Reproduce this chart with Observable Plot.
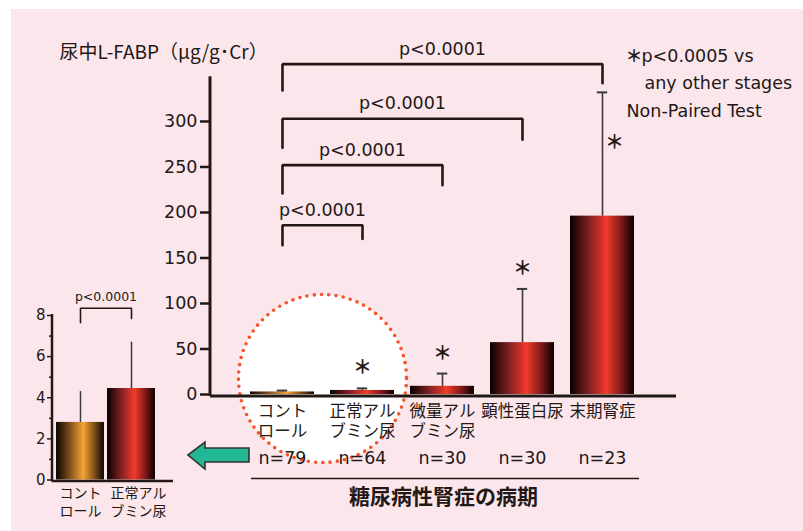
<!DOCTYPE html>
<html><head><meta charset="utf-8">
<script src="https://cdn.jsdelivr.net/npm/d3@7"></script>
<script src="https://cdn.jsdelivr.net/npm/@observablehq/plot@0.6"></script>
<style>
html,body{margin:0;padding:0;background:#fff;}
#wrap{position:relative;width:803px;height:531px;overflow:hidden;background:#fff;}
#bg{position:absolute;left:11px;top:9px;right:0;bottom:0;background:#fbe6ec;}
#main{position:absolute;left:0;top:0;}
#inset{position:absolute;left:0;top:280px;}
</style></head>
<body>
<svg width="0" height="0" style="position:absolute">
<defs>
<linearGradient id="gRed" x1="0" x2="1" y1="0" y2="0">
 <stop offset="0" stop-color="#080000"/>
 <stop offset="0.28" stop-color="#7a1f22"/>
 <stop offset="0.57" stop-color="#f23b2b"/>
 <stop offset="0.84" stop-color="#6a1415"/>
 <stop offset="1" stop-color="#080000"/>
</linearGradient>
<linearGradient id="gOrange" x1="0" x2="1" y1="0" y2="0">
 <stop offset="0" stop-color="#080400"/>
 <stop offset="0.28" stop-color="#7d4c1c"/>
 <stop offset="0.57" stop-color="#f6a434"/>
 <stop offset="0.84" stop-color="#6b3f12"/>
 <stop offset="1" stop-color="#080400"/>
</linearGradient>
</defs></svg>
<div id="wrap"><div id="bg"></div><div id="main"></div><div id="inset"></div></div>
<script>
// ---- data ----
const stages = ["コントロール","正常アルブミン尿","微量アルブミン尿","顕性蛋白尿","末期腎症"];
const stageLine1 = ["コント","正常アル","微量アル","顕性蛋白尿","末期腎症"];
const stageLine2 = ["ロール","ブミン尿","ブミン尿","",""];
const means = [2.8, 4.45, 9, 57, 196];
const upperSD = [1.5, 2.25, 14, 59, 136];
const nCounts = [79, 64, 30, 30, 23];
const starred = [false, true, true, true, true];
const yTicks = [0, 50, 100, 150, 200, 250, 300];

const bracketFrom = [0, 0, 0, 0];
const bracketTo = [4, 3, 2, 1];
const bracketTop = [363, 303, 252, 186];
const bracketFromEnd = [334, 271, 221, 164];
const bracketToEnd = [342, 280, 230, 171];
const bracketP = ["p<0.0001", "p<0.0001", "p<0.0001", "p<0.0001"];

const insetLine1 = ["コント", "正常アル"];
const insetLine2 = ["ロール", "ブミン尿"];
const insetMeans = [2.8, 4.45];
const insetSD = [1.5, 2.25];
const insetTicks = [0, 2, 4, 6, 8];
const insetMinorTicks = [1, 3, 5, 7];
const insetBracketY = [7.65, 8.35, 8.35, 7.85];
const insetBracketX = [0, 0, 1, 1];
const insetP = ["p<0.0001"];

const yTitle = ["尿中L-FABP（μg/g･Cr）"];
const xTitle = ["糖尿病性腎症の病期"];
const noteLines = ["p<0.0005 vs", "any other stages", "Non-Paired Test"];

// ---- styling ----
const ink = "#231815";
const jp = "'Noto Sans CJK JP', sans-serif";
const lat = "'DejaVu Sans', sans-serif";

const rows = stages.map((s, i) => ({i, stage: s, l1: stageLine1[i], l2: stageLine2[i], mean: means[i], top: means[i] + upperSD[i], n: nCounts[i], star: starred[i]}));
const bracketPts = bracketTo.flatMap((t, k) => [
  {k, x: bracketFrom[k], y: bracketFromEnd[k]},
  {k, x: bracketFrom[k], y: bracketTop[k]},
  {k, x: t, y: bracketTop[k]},
  {k, x: t, y: bracketToEnd[k]}
]);
const bracketLabels = bracketTo.map((t, k) => ({x: (bracketFrom[k] + t) / 2, y: bracketTop[k], p: bracketP[k]}));

const vAxis = (w) => (index, scales, values, dims) =>
  d3.create("svg:line")
    .attr("x1", dims.marginLeft).attr("x2", dims.marginLeft)
    .attr("y1", dims.marginTop - 1).attr("y2", dims.height - dims.marginBottom + 2)
    .attr("stroke", ink).attr("stroke-width", w).node();

const arrow = () => d3.create("svg:path")
  .attr("d", "M188,455 L205,442 L205,448 L249,448 L249,462 L205,462 L205,469 Z")
  .attr("fill", "#22b795").attr("stroke", "#333").attr("stroke-width", 1.6).node();

const star = "＊";

const main = Plot.plot({
  width: 803, height: 531,
  marginLeft: 210, marginRight: 127, marginTop: 77.3, marginBottom: 137,
  x: {domain: [0, 4], range: [282, 602], axis: null},
  y: {domain: [0, 348], axis: null},
  style: {background: "transparent", color: ink, fontFamily: lat, overflow: "visible"},
  marks: [
    Plot.dot([0], {x: () => 0.5, y: () => 0, dy: -16, r: 84, fill: "white", stroke: "#f0562a", strokeWidth: 3.6, strokeDasharray: "0 7.3", strokeLinecap: "round"}),
    Plot.rectY(rows, {filter: d => d.i === 0, x1: d => d.i - 0.4, x2: d => d.i + 0.4, y1: 0, y2: "mean", fill: "url(#gOrange)"}),
    Plot.rectY(rows, {filter: d => d.i > 0, x1: d => d.i - 0.4, x2: d => d.i + 0.4, y1: 0, y2: "mean", fill: "url(#gRed)"}),
    Plot.ruleX(rows, {x: "i", y1: "mean", y2: "top", stroke: "#3a3a3a", strokeWidth: 1.6}),
    Plot.ruleY(rows, {y: "top", x1: d => d.i - 0.065, x2: d => d.i + 0.065, stroke: "#3a3a3a", strokeWidth: 2}),
    Plot.ruleY([0], {stroke: ink, strokeWidth: 3, dy: 1.5}),
    vAxis(3),
    Plot.axisY(yTicks, {tickSize: 10, tickPadding: 3, fontSize: 17.5, fontFamily: lat, strokeWidth: 2.5, label: null}),
    Plot.line(bracketPts, {x: "x", y: "y", z: "k", stroke: ink, strokeWidth: 2.6, strokeLinejoin: "miter"}),
    Plot.text(bracketLabels, {x: "x", y: "y", text: "p", dy: -15, fontSize: 17.5, fontFamily: lat}),
    Plot.text(rows, {filter: d => d.star && d.i < 4, x: "i", y: "top", text: () => star, dy: -20, fontSize: 19, fontWeight: "bold", fontFamily: jp}),
    Plot.text(rows, {filter: d => d.star && d.i === 4, x: "i", y: "top", text: () => star, dx: 12, dy: 51, fontSize: 19, fontWeight: "bold", fontFamily: jp}),
    Plot.text(rows, {x: "i", text: "l1", frameAnchor: "bottom", dy: 22, fontSize: 16.5, fontFamily: jp}),
    Plot.text(rows, {filter: d => d.l2, x: "i", text: "l2", frameAnchor: "bottom", dy: 42, fontSize: 16.5, fontFamily: jp}),
    Plot.text(rows, {x: "i", text: d => "n=" + d.n, frameAnchor: "bottom", dy: 69, fontSize: 17.5, fontFamily: lat}),
    Plot.ruleY([0], {dy: 84, insetLeft: 41, insetRight: 37, stroke: ink, strokeWidth: 1.3}),
    Plot.text(xTitle, {frameAnchor: "bottom", dy: 109, fontSize: 21, fontWeight: "bold", fontFamily: jp}),
    Plot.text(yTitle, {frameAnchor: "top-left", dx: -151, dy: -32, textAnchor: "start", fontSize: 19, fontFamily: jp}),
    Plot.text([star], {frameAnchor: "top-left", dx: 415, dy: -28.3, textAnchor: "start", fontSize: 17, fontWeight: "bold", fontFamily: jp}),
    Plot.text([noteLines[0]], {frameAnchor: "top-left", dx: 431, dy: -28.3, textAnchor: "start", fontSize: 17.5, fontFamily: lat}),
    Plot.text([noteLines[1]], {frameAnchor: "top-left", dx: 434, dy: -1.3, textAnchor: "start", fontSize: 17.5, fontFamily: lat}),
    Plot.text([noteLines[2]], {frameAnchor: "top-left", dx: 416, dy: 26.7, textAnchor: "start", fontSize: 17.5, fontFamily: lat}),
    arrow
  ]
});
document.getElementById("main").appendChild(main);

const irows = insetMeans.map((m, i) => ({i, l1: insetLine1[i], l2: insetLine2[i], mean: m, top: m + insetSD[i]}));
const ibr = insetBracketX.map((x, k) => ({x, y: insetBracketY[k]}));
const inset = Plot.plot({
  width: 200, height: 251,
  marginLeft: 52, marginRight: 27, marginTop: 35, marginBottom: 51.5,
  x: {domain: [0, 1], range: [80, 131], axis: null},
  y: {domain: [0, 8], axis: null},
  style: {background: "transparent", color: ink, fontFamily: lat, overflow: "visible"},
  marks: [
    Plot.rectY(irows, {filter: d => d.i === 0, x1: d => d.i - 0.47, x2: d => d.i + 0.47, y1: 0, y2: "mean", fill: "url(#gOrange)"}),
    Plot.rectY(irows, {filter: d => d.i > 0, x1: d => d.i - 0.47, x2: d => d.i + 0.47, y1: 0, y2: "mean", fill: "url(#gRed)"}),
    Plot.ruleX(irows, {x: "i", y1: "mean", y2: "top", stroke: "#3a3a3a", strokeWidth: 1.5}),
    Plot.ruleY([0], {stroke: ink, strokeWidth: 2.5, dy: 1}),
    vAxis(2.5),
    Plot.axisY(insetTicks, {tickSize: 5, tickPadding: 2, fontSize: 15, fontFamily: lat, strokeWidth: 1.5, label: null}),
    Plot.axisY(insetMinorTicks, {tickSize: 3, tickFormat: () => "", strokeWidth: 1.5, label: null}),
    Plot.line(ibr, {x: "x", y: "y", stroke: ink, strokeWidth: 1.6, strokeLinejoin: "miter"}),
    Plot.text(insetP, {x: () => 0.5, y: () => 8.35, dy: -11, fontSize: 12.5, fontFamily: lat}),
    Plot.text(irows, {x: d => d.i - 0.47, text: "l1", frameAnchor: "bottom", textAnchor: "start", dx: 3, dy: 17.5, fontSize: 14, fontFamily: jp}),
    Plot.text(irows, {x: d => d.i - 0.47, text: "l2", frameAnchor: "bottom", textAnchor: "start", dx: 3, dy: 35.5, fontSize: 14, fontFamily: jp})
  ]
});
document.getElementById("inset").appendChild(inset);
</script>
</body></html>
